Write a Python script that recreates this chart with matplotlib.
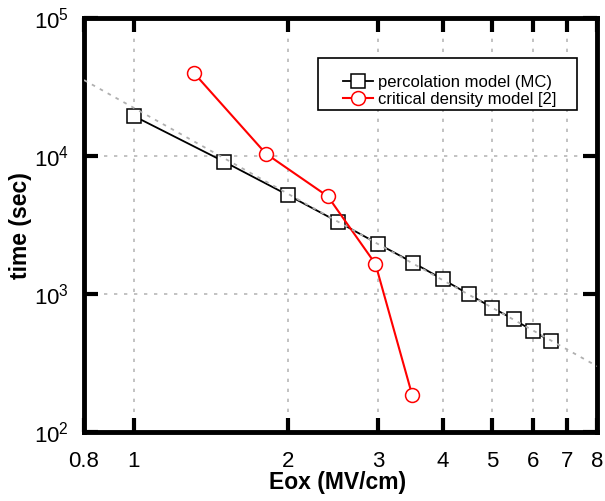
import matplotlib
matplotlib.use("Agg")
import matplotlib.pyplot as plt
from matplotlib.ticker import FixedLocator, FixedFormatter, NullLocator
from matplotlib.patches import Rectangle

plt.rcParams['font.family'] = ['Liberation Sans', 'DejaVu Sans']
plt.rcParams['mathtext.fontset'] = 'custom'
plt.rcParams['mathtext.rm'] = 'Liberation Sans'
plt.rcParams['mathtext.it'] = 'Liberation Sans:italic'
plt.rcParams['mathtext.bf'] = 'Liberation Sans:bold'

# Data
perc_x = [1.0, 1.5, 2.0, 2.5, 3.0, 3.5, 4.0, 4.5, 5.0, 5.5, 6.0, 6.5]
perc_y = [19500, 9100, 5200, 3340, 2300, 1690, 1280, 995, 796, 656, 540, 456]
crit_x = [1.31, 1.81, 2.39, 2.96, 3.49]
crit_y = [40000, 10400, 5100, 1650, 185]
fit_x = [0.8, 8.0]
fit_y = [35500, 300]

x_ticks = [0.8, 1, 2, 3, 4, 5, 6, 7, 8]
x_ticklabels = ['0.8', '1', '2', '3', '4', '5', '6', '7', '8']
y_ticks = [1e2, 1e3, 1e4, 1e5]
y_ticklabels = [r'$10^{2}$', r'$10^{3}$', r'$10^{4}$', r'$10^{5}$']
grid_x = [1, 2, 3, 4, 5, 6, 7]
grid_y = [1e3, 1e4]

W, H = 605, 501
fig = plt.figure(figsize=(W / 100, H / 100), dpi=100)
ax = fig.add_axes([84 / W, 69 / H, 513 / W, 414 / H])
ax.set_xscale('log')
ax.set_yscale('log')
ax.set_xlim(0.8, 8)
ax.set_ylim(1e2, 1e5)

gridcol = '#b8b8b8'
for gx in grid_x:
    ax.axvline(gx, color=gridcol, lw=1.2, ls=(0, (2, 4)), zorder=0)
for gy in grid_y:
    ax.axhline(gy, color=gridcol, lw=1.2, ls=(0, (2, 4)), zorder=0)

ax.plot(perc_x, perc_y, color='black', lw=1.3, marker='s', markersize=10.5,
        markerfacecolor='white', markeredgecolor='black', markeredgewidth=1.1,
        label='percolation model (MC)', zorder=3)
ax.plot(crit_x, crit_y, color='red', lw=1.5, marker='o', markersize=10,
        markerfacecolor='white', markeredgecolor='red', markeredgewidth=1.1,
        label='critical density model [2]', zorder=4)
ax.plot(fit_x, fit_y, color='#b0b0b0', lw=1.3, ls=(0, (2, 3)), zorder=5)

ax.xaxis.set_major_locator(FixedLocator(x_ticks))
ax.xaxis.set_major_formatter(FixedFormatter(x_ticklabels))
ax.xaxis.set_minor_locator(NullLocator())
ax.yaxis.set_major_locator(FixedLocator(y_ticks))
ax.yaxis.set_major_formatter(FixedFormatter(y_ticklabels))
ax.yaxis.set_minor_locator(NullLocator())

ax.tick_params(which='major', direction='in', length=10, width=3,
               top=True, right=True, labelsize=16, color='black')
ax.tick_params(axis='x', pad=14)
ax.tick_params(axis='y', pad=11)
for s in ax.spines.values():
    s.set_linewidth(3.5)

ax.set_xlabel('Eox (MV/cm)', fontsize=16.5, fontweight='bold')
ax.set_ylabel('time (sec)', fontsize=16.5, fontweight='bold')
ax.xaxis.label.set_va('center')
ax.yaxis.label.set_va('center')
ax.xaxis.set_label_coords(0.5 + (338 - 340.5) / 513, (432 - 482) / 414)
ax.yaxis.set_label_coords((21 - 84) / 513, (432 - 226) / 414)

leg = fig.legend(loc='upper left', bbox_to_anchor=(343 / W, 1 - 75 / H),
                 fontsize=12, frameon=False, handlelength=1.8, handletextpad=0.3,
                 borderpad=0, labelspacing=0.1, borderaxespad=0)
fig.add_artist(Rectangle((318 / W, 1 - 110 / H), (577 - 318) / W, (110 - 58) / H,
                         transform=fig.transFigure, facecolor='white',
                         edgecolor='black', lw=1.2, zorder=6))
leg.set_zorder(7)

fig.savefig('out.png', dpi=100)
